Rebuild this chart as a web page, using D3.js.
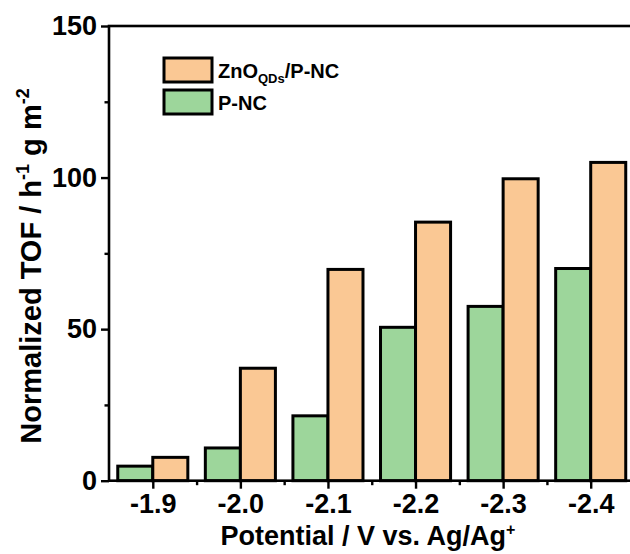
<!DOCTYPE html>
<html>
<head>
<meta charset="utf-8">
<script src="https://cdn.jsdelivr.net/npm/d3@7"></script>
<style>
  html, body { margin: 0; padding: 0; background: #fff; }
  svg { display: block; }
  text { font-family: "Liberation Sans", Arial, sans-serif; font-weight: bold; fill: #000; }
</style>
</head>
<body>
<svg id="chart" width="630" height="554"></svg>
<script>
// Potentials (V vs. Ag/Ag+) and normalized TOF for each catalyst
const potentials = [-1.9, -2.0, -2.1, -2.2, -2.3, -2.4];
const pncValues = [4.8, 10.8, 21.4, 50.6, 57.5, 70.0];
const znoValues = [7.7, 37.1, 69.7, 85.3, 99.6, 105.0];
const yTicks = [0, 50, 100, 150];
const yMinorTicks = [25, 75, 125];
const xMinorTicks = [-1.95, -2.05, -2.15, -2.25, -2.35, -2.45];

const orange = "#FAC894";
const green = "#9DD69B";
const barWidth = 0.04;

const svg = d3.select("#chart");
const plotLeft = 109, plotRight = 634.5, plotTop = 26, plotBottom = 480.7;

const x = d3.scaleLinear().domain([-1.85, -2.45]).range([plotLeft, plotRight]);
const y = d3.scaleLinear().domain([0, 150]).range([plotBottom, plotTop]);

// Bars: P-NC to the left of each tick, ZnO QDs/P-NC to the right
const bars = svg.append("g").attr("stroke", "#000").attr("stroke-width", 3);
bars.selectAll("rect.pnc").data(potentials).join("rect")
  .attr("class", "pnc")
  .attr("x", d => x(d + barWidth))
  .attr("width", d => x(d) - x(d + barWidth))
  .attr("y", (d, i) => y(pncValues[i]))
  .attr("height", (d, i) => y(0) - y(pncValues[i]))
  .attr("fill", green);
bars.selectAll("rect.zno").data(potentials).join("rect")
  .attr("class", "zno")
  .attr("x", d => x(d))
  .attr("width", d => x(d - barWidth) - x(d))
  .attr("y", (d, i) => y(znoValues[i]))
  .attr("height", (d, i) => y(0) - y(znoValues[i]))
  .attr("fill", orange);

// Frame
svg.append("rect")
  .attr("x", plotLeft).attr("y", plotTop)
  .attr("width", plotRight - plotLeft).attr("height", plotBottom - plotTop)
  .attr("fill", "none").attr("stroke", "#000").attr("stroke-width", 2.6);

// Y axis
const yAxis = svg.append("g").attr("transform", `translate(${plotLeft},0)`)
  .call(d3.axisLeft(y).tickValues(yTicks).tickSize(8).tickPadding(4).tickFormat(d3.format("d")));
yAxis.select(".domain").remove();
yAxis.selectAll("line").attr("stroke", "#000").attr("stroke-width", 2.4);
yAxis.selectAll("text").attr("font-size", 27).attr("font-family", null);
svg.append("g").attr("transform", `translate(${plotLeft},0)`)
  .call(d3.axisLeft(y).tickValues(yMinorTicks).tickSize(4.5).tickFormat(""))
  .call(g => g.select(".domain").remove())
  .selectAll("line").attr("stroke", "#000").attr("stroke-width", 2.4);

// X axis
const xAxis = svg.append("g").attr("transform", `translate(0,${plotBottom})`)
  .call(d3.axisBottom(x).tickValues(potentials).tickSize(8).tickPadding(5));
xAxis.select(".domain").remove();
xAxis.selectAll("line").attr("stroke", "#000").attr("stroke-width", 2.4);
xAxis.selectAll("text").attr("font-size", 27).attr("font-family", null)
  .text(d => d.toFixed(1));
svg.append("g").attr("transform", `translate(0,${plotBottom})`)
  .call(d3.axisBottom(x).tickValues(xMinorTicks).tickSize(4.5).tickFormat(""))
  .call(g => g.select(".domain").remove())
  .selectAll("line").attr("stroke", "#000").attr("stroke-width", 2.4);

// Axis titles
const xTitle = svg.append("text")
  .attr("x", 368).attr("y", 545)
  .attr("text-anchor", "middle").attr("font-size", 27);
xTitle.append("tspan").text("Potential / V vs. Ag/Ag");
xTitle.append("tspan").attr("font-size", 16).attr("dy", -10).text("+");

const yTitle = svg.append("text")
  .attr("transform", "translate(41,266) rotate(-90)")
  .attr("text-anchor", "middle").attr("font-size", 29);
yTitle.append("tspan").text("Normalized TOF / h");
yTitle.append("tspan").attr("font-size", 18).attr("dy", -12).text("-1");
yTitle.append("tspan").attr("dy", 12).text(" g m");
yTitle.append("tspan").attr("font-size", 18).attr("dy", -12).text("-2");

// Legend
const legend = svg.append("g");
const legendItems = [
  { fill: orange, y: 58 },
  { fill: green, y: 90 }
];
legend.selectAll("rect").data(legendItems).join("rect")
  .attr("x", 164).attr("y", d => d.y)
  .attr("width", 48).attr("height", 24)
  .attr("fill", d => d.fill).attr("stroke", "#000").attr("stroke-width", 3);
const l1 = legend.append("text").attr("x", 218).attr("y", 78).attr("font-size", 20);
l1.append("tspan").text("ZnO");
l1.append("tspan").attr("font-size", 13).attr("dy", 5).text("QDs");
l1.append("tspan").attr("dy", -5).text("/P-NC");
legend.append("text").attr("x", 218).attr("y", 110).attr("font-size", 20).text("P-NC");
</script>
</body>
</html>
